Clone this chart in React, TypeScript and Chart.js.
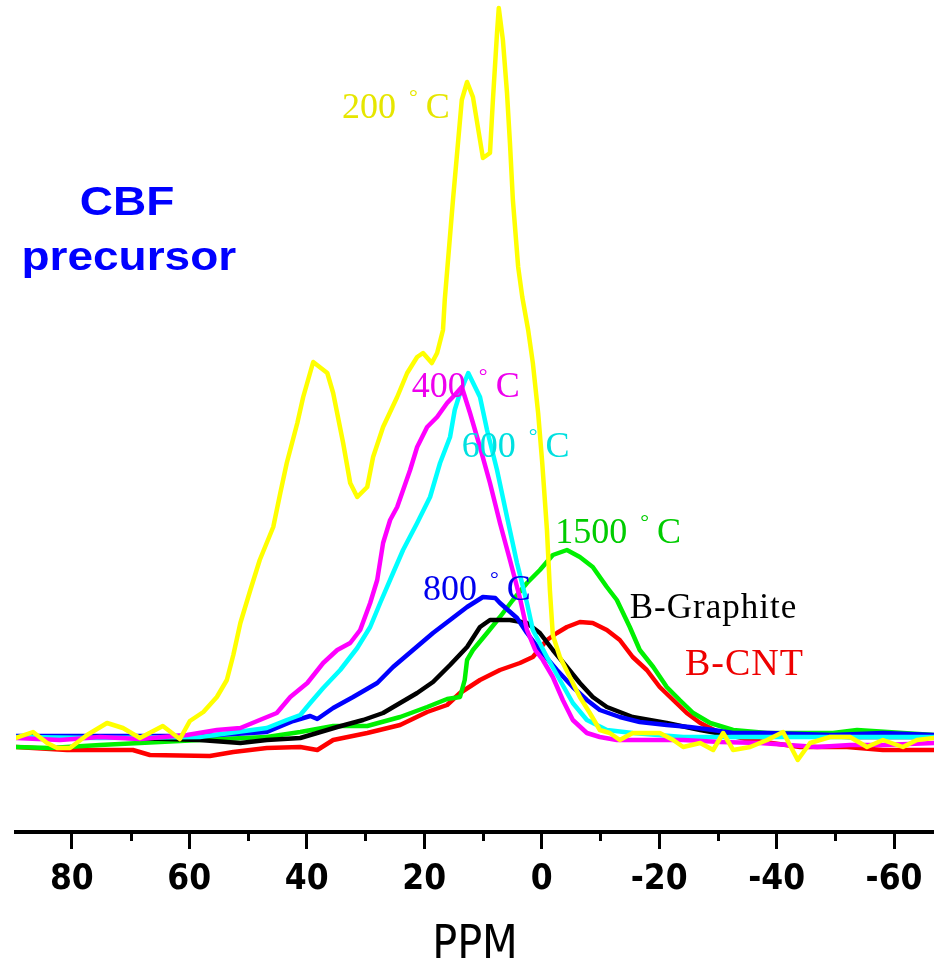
import { useEffect, useRef } from 'react';
import { Chart, registerables } from 'chart.js';
Chart.register(...registerables);

// ---- axis ----
const X_MIN = -66.8;
const X_MAX = 89.5;
const Y_MIN = -92;
const Y_MAX = 740;
const MAJOR_TICKS = [80, 60, 40, 20, 0, -20, -40, -60];
const MINOR_TICKS = [70, 50, 30, 10, -10, -30, -50];
const X_TITLE = 'PPM';

// ---- series (chemical shift in ppm, intensity a.u.) ----
const PPM_200 = [89.5, 86.6, 84.2, 82.5, 80.3, 77.4, 74.0, 71.3, 68.4, 64.5, 61.6, 59.9, 57.6, 55.3, 53.6, 52.5, 51.3, 49.6, 48.0, 45.7, 44.5, 43.4, 41.6, 40.6, 38.9, 36.5, 35.5, 33.8, 32.6, 31.4, 29.7, 28.7, 27.0, 24.6, 22.9, 21.2, 20.2, 18.7, 17.8, 16.8, 16.5, 15.1, 14.2, 13.6, 12.7, 11.7, 10.5, 10.0, 8.8, 8.3, 7.6, 7.3, 6.6, 5.9, 5.4, 4.9, 4.0, 3.3, 2.3, 1.5, 0.6, -0.1, -0.9, -1.4, -1.9, -3.1, -4.8, -6.5, -8.2, -9.9, -11.6, -13.3, -15.5, -17.9, -20.1, -22.4, -24.1, -27.0, -29.2, -30.9, -32.6, -35.5, -38.4, -41.1, -43.6, -45.7, -49.1, -52.5, -55.4, -58.1, -61.5, -63.9, -66.8];
const INT_200 = [2, 8, -3, -8, -8, 5, 17, 12, 2, 14, 1, 19, 28, 43, 60, 85, 117, 150, 180, 213, 247, 277, 317, 343, 378, 367, 347, 297, 257, 243, 253, 283, 313, 343, 367, 383, 387, 377, 387, 410, 440, 540, 600, 640, 658, 643, 600, 582, 587, 640, 707, 732, 700, 647, 597, 540, 473, 443, 410, 377, 327, 277, 210, 150, 105, 83, 63, 43, 27, 10, 7, 0, 7, 7, 7, 0, -7, -3, -10, 7, -10, -7, 0, 8, -20, -3, 3, 3, -7, 0, -7, 0, 2];

const PPM_400 = [89.5, 82.0, 75.2, 68.4, 60.4, 55.3, 51.3, 48.0, 45.1, 42.8, 39.9, 37.2, 34.8, 32.6, 30.9, 29.2, 28.0, 27.0, 25.8, 24.6, 22.4, 21.2, 19.5, 17.8, 16.1, 14.8, 13.6, 12.2, 10.5, 8.8, 7.1, 5.4, 3.7, 2.5, 1.1, -0.2, -1.9, -3.6, -5.3, -7.7, -9.9, -12.8, -18.4, -24.1, -30.4, -37.2, -46.9, -52.5, -58.1, -66.8];
const INT_400 = [2, 0, 3, 1, 5, 10, 12, 20, 27, 43, 57, 77, 90, 97, 110, 137, 160, 197, 220, 233, 270, 293, 313, 323, 337, 345, 353, 327, 293, 257, 217, 180, 142, 110, 90, 80, 63, 40, 20, 7, 3, 0, 0, 0, -2, -3, -7, -5, -5, -3];

const PPM_600 = [89.5, 75.2, 58.2, 46.8, 43.4, 41.1, 39.4, 37.2, 34.3, 31.4, 29.2, 27.5, 25.3, 23.6, 21.2, 19.0, 17.3, 15.6, 14.8, 13.9, 12.5, 10.5, 9.3, 7.6, 5.9, 4.2, 2.5, 1.5, -0.9, -3.1, -5.3, -7.7, -11.1, -15.5, -24.1, -35.5, -52.5, -66.8];
const INT_600 = [3, 2, 3, 12, 20, 25, 37, 52, 70, 92, 113, 137, 167, 190, 217, 243, 277, 303, 330, 347, 367, 343, 310, 270, 223, 177, 137, 110, 83, 60, 37, 20, 10, 7, 3, 3, 3, 3];

const PPM_800 = [89.5, 75.2, 58.2, 46.8, 42.3, 39.4, 38.2, 35.5, 32.1, 28.0, 25.3, 21.9, 18.5, 15.6, 12.7, 10.0, 7.9, 7.1, 4.2, 2.5, 0.3, -2.6, -5.3, -7.7, -9.9, -13.3, -16.7, -21.3, -25.2, -29.2, -32.6, -38.4, -49.6, -58.1, -66.8];
const INT_800 = [4, 4, 4, 8, 19, 24, 21, 32, 43, 57, 73, 90, 107, 120, 133, 143, 142, 137, 122, 107, 90, 70, 53, 40, 30, 23, 18, 15, 13, 10, 7, 7, 5, 7, 5];

const PPM_GRAPHITE = [89.5, 75.2, 58.2, 51.3, 46.8, 41.1, 34.8, 30.4, 27.0, 24.1, 21.2, 18.5, 15.6, 12.7, 10.5, 8.8, 5.4, 2.5, 0.3, -1.9, -4.3, -6.5, -8.7, -11.1, -15.5, -21.3, -27.0, -29.8, -40.6, -52.5, -66.8];
const INT_GRAPHITE = [3, 3, 0, -3, 0, 2, 13, 20, 27, 37, 47, 58, 75, 93, 113, 120, 120, 117, 107, 90, 73, 57, 43, 33, 23, 17, 10, 7, 5, 3, 3];

const PPM_1500 = [89.5, 83.7, 75.2, 58.2, 46.8, 41.1, 35.5, 29.7, 24.1, 19.5, 16.1, 13.9, 13.1, 12.7, 11.7, 9.3, 7.1, 4.9, 2.5, 0.3, -1.9, -4.3, -6.5, -8.7, -11.1, -12.8, -15.0, -16.7, -19.0, -21.3, -23.5, -25.8, -28.7, -32.6, -38.4, -49.6, -53.7, -66.8];
const INT_1500 = [-7, -8, -5, 0, 3, 8, 14, 14, 23, 33, 41, 43, 60, 80, 90, 107, 123, 140, 157, 170, 185, 190, 183, 173, 153, 140, 113, 90, 73, 53, 40, 27, 17, 10, 7, 7, 10, 5];

const PPM_CNT = [89.5, 80.8, 69.6, 66.7, 56.5, 52.5, 46.8, 41.1, 38.2, 35.5, 29.7, 24.1, 19.5, 16.1, 13.9, 10.5, 7.1, 3.7, 1.5, -0.9, -2.6, -4.3, -6.5, -8.7, -11.1, -13.3, -15.5, -17.9, -20.1, -22.4, -24.7, -27.0, -30.4, -35.5, -44.0, -52.0, -58.1, -66.8];
const INT_CNT = [-7, -10, -10, -15, -16, -12, -8, -7, -10, 0, 7, 15, 28, 35, 47, 60, 70, 77, 83, 100, 107, 113, 118, 117, 110, 100, 83, 70, 53, 40, 27, 17, 7, 0, -7, -7, -10, -10];

// ---- annotations ----
const TEMP_TEXT = ['200', '400', '600', '800', '1500'];
const TEMP_PPM = [34.0, 22.1, 13.6, 20.2, -2.3];
const TEMP_INT = [622, 343, 283, 140, 197];
const SAMPLE_TEXT = ['B-Graphite', 'B-CNT'];
const SAMPLE_PPM = [-15.0, -24.4];
const SAMPLE_INT = [122, 65];
const HEAD_TEXT = ['CBF', 'precursor'];
const HEAD_PPM = [70.6, 70.3];
const HEAD_INT = [525, 470];

const COL = {
  yellow: '#ffff00',
  magenta: '#ff00ff',
  cyan: '#00ffff',
  blue: '#0000ff',
  black: '#000000',
  green: '#00f000',
  red: '#ff0000',
};
const TEMP_COLORS = ['#e6e600', '#ee00ee', '#00e0e0', '#0000ee', '#00cc00'];
const SAMPLE_COLORS = ['#000000', '#ee0000'];

const NARROW = "'Liberation Sans Narrow', 'DejaVu Sans Condensed', 'Liberation Sans', Arial, sans-serif";
const SERIF = "'Liberation Serif', 'Times New Roman', serif";

function series(label: string, xs: number[], ys: number[], color: string) {
  return {
    label,
    data: xs.map((x, i) => ({ x, y: ys[i] })),
    borderColor: color,
    backgroundColor: color,
    borderWidth: 4.5,
    pointRadius: 0,
    tension: 0,
    fill: false,
    borderJoinStyle: 'round' as const,
    borderCapStyle: 'round' as const,
  };
}

const annotationPlugin = {
  id: 'annot',
  afterDraw(chart: any) {
    const { ctx, chartArea, scales } = chart;
    const xs = scales.x;
    const ys = scales.y;
    ctx.save();
    // minor ticks
    ctx.strokeStyle = '#000';
    ctx.lineWidth = 3;
    MINOR_TICKS.forEach((v) => {
      const px = Math.round(xs.getPixelForValue(v)) + 0.5;
      ctx.beginPath();
      ctx.moveTo(px, chartArea.bottom);
      ctx.lineTo(px, chartArea.bottom + 9);
      ctx.stroke();
    });
    // temperature labels
    ctx.textBaseline = 'alphabetic';
    ctx.textAlign = 'left';
    TEMP_TEXT.forEach((t, i) => {
      let x = xs.getPixelForValue(TEMP_PPM[i]);
      const y = ys.getPixelForValue(TEMP_INT[i]);
      ctx.fillStyle = TEMP_COLORS[i];
      ctx.font = `36px ${SERIF}`;
      ctx.fillText(t, x, y);
      x += ctx.measureText(t).width + 13;
      ctx.font = `22px ${SERIF}`;
      ctx.fillText('°', x, y - 14);
      x += ctx.measureText('°').width + 8;
      ctx.font = `36px ${SERIF}`;
      ctx.fillText('C', x, y);
    });
    // sample labels
    SAMPLE_TEXT.forEach((t, i) => {
      const x = xs.getPixelForValue(SAMPLE_PPM[i]);
      const y = ys.getPixelForValue(SAMPLE_INT[i]);
      ctx.fillStyle = SAMPLE_COLORS[i];
      ctx.font = i === 0 ? `35px ${SERIF}` : `38px ${SERIF}`;
      (ctx as any).letterSpacing = '1px';
      ctx.fillText(t, x, y);
      (ctx as any).letterSpacing = '0px';
    });
    // heading
    ctx.fillStyle = '#0000ff';
    ctx.textAlign = 'center';
    ctx.font = `bold 40px 'Liberation Sans', Arial, sans-serif`;
    HEAD_TEXT.forEach((t, i) => {
      const x = xs.getPixelForValue(HEAD_PPM[i]);
      const y = ys.getPixelForValue(HEAD_INT[i]);
      ctx.save();
      ctx.translate(x, y);
      ctx.scale(1.15, 1);
      ctx.fillText(t, 0, 0);
      ctx.restore();
    });
    ctx.restore();
  },
};

export default function App() {
  const ref = useRef<HTMLCanvasElement>(null);
  useEffect(() => {
    if (!ref.current) return;
    const chart = new Chart(ref.current, {
      type: 'line',
      data: {
        datasets: [
          series('200 °C', PPM_200, INT_200, COL.yellow),
          series('400 °C', PPM_400, INT_400, COL.magenta),
          series('600 °C', PPM_600, INT_600, COL.cyan),
          series('800 °C', PPM_800, INT_800, COL.blue),
          series('B-Graphite', PPM_GRAPHITE, INT_GRAPHITE, COL.black),
          series('1500 °C', PPM_1500, INT_1500, COL.green),
          series('B-CNT', PPM_CNT, INT_CNT, COL.red),
        ],
      },
      options: {
        animation: false,
        responsive: false,
        devicePixelRatio: 1,
        layout: { padding: { left: 16, right: 0, top: 0, bottom: 0 } },
        plugins: { legend: { display: false }, tooltip: { enabled: false } },
        scales: {
          x: {
            type: 'linear',
            position: 'bottom',
            reverse: true,
            min: X_MIN,
            max: X_MAX,
            afterBuildTicks: (scale: any) => {
              scale.ticks = MAJOR_TICKS.map((v) => ({ value: v }));
            },
            afterFit: (scale: any) => {
              scale.height = 134;
            },
            border: { display: true, color: '#000', width: 4 },
            grid: {
              display: true,
              drawOnChartArea: false,
              drawTicks: true,
              tickLength: 17,
              tickWidth: 3,
              tickColor: '#000',
            },
            ticks: {
              autoSkip: false,
              maxRotation: 0,
              padding: 10,
              color: '#000',
              font: { family: NARROW, size: 35, weight: 'bold' },
              callback: (v: any) => String(v),
            },
            title: {
              display: true,
              text: X_TITLE,
              color: '#000',
              font: { family: NARROW, size: 46, lineHeight: 1.0 },
              padding: { top: 0, bottom: -3 },
            },
          },
          y: {
            type: 'linear',
            display: false,
            min: Y_MIN,
            max: Y_MAX,
          },
        },
      },
      plugins: [annotationPlugin],
    } as any);
    return () => chart.destroy();
  }, []);
  return (
    <div style={{ position: 'fixed', left: 0, top: 0, width: 934, height: 966, background: '#fff' }}>
      <canvas ref={ref} width={934} height={966} style={{ display: 'block' }} />
    </div>
  );
}
